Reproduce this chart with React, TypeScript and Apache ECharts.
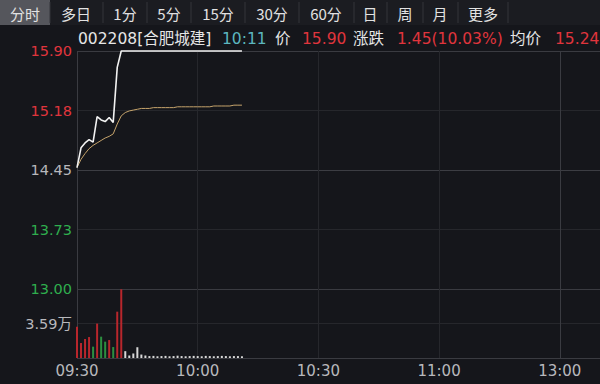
import React, { useEffect, useRef } from "react";
import * as echarts from "echarts";

// ---- data ----
const tabs = ["分时", "多日", "1分", "5分", "15分", "30分", "60分", "日", "周", "月", "更多"];
const timeTicks = ["09:30", "10:00", "10:30", "11:00", "13:00"];
const priceTicks = ["13.00", "13.73", "14.45", "15.18", "15.90"];
const volTicks = ["", "3.59万", ""];
const preClose = 14.45;
const priceLow = 13.0;
const priceHigh = 15.9;
const volMax = 7.18;

// minute-by-minute last price from 09:30 to 10:11
const prices = [
  14.48, 14.72, 14.78, 14.82, 14.79, 15.10, 15.06, 15.04, 15.09, 15.03,
  15.70, 15.90, 15.90, 15.90, 15.90, 15.90, 15.90, 15.90, 15.90, 15.90,
  15.90, 15.90, 15.90, 15.90, 15.90, 15.90, 15.90, 15.90, 15.90, 15.90,
  15.90, 15.90, 15.90, 15.90, 15.90, 15.90, 15.90, 15.90, 15.90, 15.90,
  15.90, 15.90,
];
// minute-by-minute average price
const avgPrices = [
  14.48, 14.58, 14.65, 14.71, 14.75, 14.78, 14.81, 14.84, 14.86, 14.89,
  15.01, 15.11, 15.15, 15.17, 15.18, 15.19, 15.20, 15.20, 15.20, 15.21,
  15.21, 15.21, 15.21, 15.21, 15.21, 15.22, 15.22, 15.22, 15.22, 15.22,
  15.22, 15.22, 15.22, 15.22, 15.23, 15.23, 15.23, 15.23, 15.23, 15.24,
  15.24, 15.24,
];
// volume in 万 (10k shares)
const volumes = [
  3.26, 1.56, 1.98, 2.18, 1.18, 3.58, 2.22, 1.70, 1.87, 1.14,
  4.82, 7.15, 0.71, 0.26, 0.47, 1.12, 0.36, 0.26, 0.2, 0.22,
  0.18, 0.2, 0.22, 0.18, 0.2, 0.24, 0.2, 0.18, 0.2, 0.22,
  0.2, 0.18, 0.22, 0.2, 0.18, 0.2, 0.22, 0.2, 0.18, 0.2,
  0.2, 0.18,
];

const FONT = '"Noto Sans CJK SC", "Noto Sans", sans-serif';
const NUMFONT = '"DejaVu Sans", "Noto Sans CJK SC", sans-serif';
const RED = "#e0353d";
const GREEN = "#2fae4e";
const GRAY = "#b8b8bc";
const WHITE = "#e6e6e6";

export default function App() {
  const ref = useRef<HTMLDivElement>(null);

  useEffect(() => {
    if (!ref.current) return;
    const chart = echarts.init(ref.current, null, { renderer: "svg" });

    const step = 0.725;
    const priceData = prices.map((p, i) => [i, +(p - priceLow).toFixed(3)]);
    const avgData = avgPrices.map((p, i) => [i, +(p - priceLow).toFixed(3)]);
    const volData = volumes.map((v, i) => {
      const prev = i === 0 ? preClose : prices[i - 1];
      const c = prices[i] > prev ? "#b8262c" : prices[i] < prev ? "#2c8f40" : "#d8d8d8";
      return { value: [i, v], itemStyle: { color: c } };
    });

    // toolbar
    const sepX = [50, 103, 147, 191, 245, 299, 354, 387, 423, 458, 508];
    const tabCenters = [25, 76, 125, 169, 218, 272, 326, 370, 405, 440, 483];
    const graphics: any[] = [
      { type: "rect", left: 0, top: 0, shape: { width: 600, height: 25 }, style: { fill: "#1b1c21" }, silent: true },
      { type: "rect", left: 0, top: 0, shape: { width: 50, height: 25 }, style: { fill: "#55565c" }, silent: true },
    ];
    sepX.forEach((x) =>
      graphics.push({ type: "line", shape: { x1: x, y1: 2, x2: x, y2: 23 }, style: { stroke: "#34353b", lineWidth: 1 }, silent: true })
    );
    tabs.forEach((t, i) =>
      graphics.push({
        type: "text",
        x: tabCenters[i],
        y: 13,
        style: { text: t, fill: "#e2e2e2", font: `15px ${FONT}`, align: "center", verticalAlign: "middle" },
        silent: true,
      })
    );
    const header = [
      { text: "002208[合肥城建]", x: 78, color: WHITE },
      { text: "10:11", x: 222, color: "#5cb6bf" },
      { text: "价", x: 275, color: WHITE },
      { text: prices[prices.length - 1].toFixed(2), x: 302, color: RED },
      { text: "涨跌", x: 353, color: WHITE },
      { text: "1.45(10.03%)", x: 397, color: RED },
      { text: "均价", x: 510, color: WHITE },
      { text: avgPrices[avgPrices.length - 1].toFixed(2), x: 555, color: RED },
    ];
    header.forEach((h) =>
      graphics.push({
        type: "text",
        x: h.x,
        y: 39,
        style: { text: h.text, fill: h.color, font: `15.5px ${NUMFONT}`, align: "left", verticalAlign: "middle" },
        silent: true,
      })
    );

    const xSplitColors = ["#3a3b41", "#26272c", "#26272c", "#26272c", "#3a3b41", "#26272c"];
    const timeFmt = (v: number) => (v % 30 === 0 && v / 30 < timeTicks.length ? timeTicks[v / 30] : "");

    chart.setOption({
      animation: false,
      backgroundColor: "#15161b",
      textStyle: { fontFamily: FONT },
      graphic: graphics,
      grid: [
        { left: 77, top: 51, width: 523, height: 238 },
        { left: 77, top: 289, width: 523, height: 69 },
      ],
      xAxis: [
        {
          type: "value",
          gridIndex: 0,
          min: 0,
          max: 130,
          interval: 30,
          axisLine: { show: false },
          axisTick: { show: false },
          axisLabel: { show: false },
          splitLine: { show: true, lineStyle: { color: xSplitColors, width: 1 } },
        },
        {
          type: "value",
          gridIndex: 1,
          min: 0,
          max: 130,
          interval: 30,
          axisLine: { show: false },
          axisTick: { show: false },
          axisLabel: {
            show: true,
            formatter: timeFmt,
            color: GRAY,
            fontSize: 15,
            fontFamily: NUMFONT,
            margin: 5,
            showMaxLabel: false,
          },
          splitLine: { show: true, lineStyle: { color: xSplitColors, width: 1 } },
        },
      ],
      yAxis: [
        {
          type: "value",
          gridIndex: 0,
          min: 0,
          max: priceHigh - priceLow,
          interval: step,
          axisLine: { show: false },
          axisTick: { show: false },
          axisLabel: {
            formatter: (v: number) => priceTicks[Math.round(v / step)] ?? "",
            color: (v: any) => {
              const idx = Math.round(parseFloat(v) / step);
              return idx > 2 ? RED : idx < 2 ? GREEN : GRAY;
            },
            fontSize: 14.5,
            fontFamily: NUMFONT,
            margin: 5,
            padding: [4, 0, 0, 0],
          },
          splitLine: {
            show: true,
            lineStyle: { color: ["#3a3b41", "#26272c", "#3c3d43", "#26272c", "#3a3b41"], width: 1 },
          },
        },
        {
          type: "value",
          gridIndex: 1,
          min: 0,
          max: volMax,
          interval: volMax / 2,
          axisLine: { show: false },
          axisTick: { show: false },
          axisLabel: {
            formatter: (v: number) => volTicks[Math.round(v / (volMax / 2))] ?? "",
            color: GRAY,
            fontSize: 14.5,
            fontFamily: NUMFONT,
            margin: 5,
            padding: [2, 0, 0, 0],
          },
          splitLine: { show: true, lineStyle: { color: ["#3a3b41", "#26272c", "#3a3b41"], width: 1 } },
        },
      ],
      series: [
        {
          type: "line",
          xAxisIndex: 0,
          yAxisIndex: 0,
          data: avgData,
          showSymbol: false,
          clip: false,
          lineStyle: { color: "#c6a46c", width: 1 },
          z: 3,
        },
        {
          type: "line",
          xAxisIndex: 0,
          yAxisIndex: 0,
          data: priceData,
          showSymbol: false,
          clip: false,
          lineStyle: { color: "#f2f2f2", width: 1.6 },
          z: 4,
        },
        {
          type: "bar",
          xAxisIndex: 1,
          yAxisIndex: 1,
          data: volData,
          barWidth: 2,
        },
      ],
    });

    return () => chart.dispose();
  }, []);

  return (
    <div
      ref={ref}
      style={{ position: "fixed", left: 0, top: 0, width: 600, height: 384 }}
    />
  );
}
